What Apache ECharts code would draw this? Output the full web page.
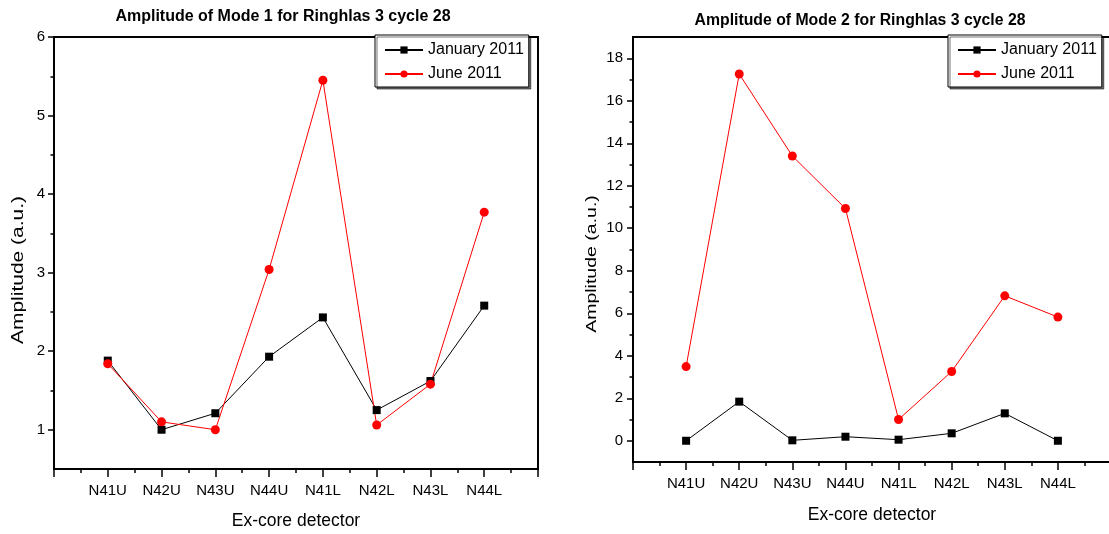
<!DOCTYPE html>
<html><head><meta charset="utf-8">
<script src="https://cdn.jsdelivr.net/npm/echarts@6/dist/echarts.min.js"></script>
<style>html,body{margin:0;padding:0;background:#fff}#c{width:1109px;height:534px}</style>
</head><body><div id="c"></div>
<script>
// ---- data ----
const detectors = ['N41U', 'N42U', 'N43U', 'N44U', 'N41L', 'N42L', 'N43L', 'N44L'];
const seriesNames = ['January 2011', 'June 2011'];
const mode1Jan = [1.88, 1.00, 1.21, 1.93, 2.43, 1.25, 1.62, 2.58];
const mode1Jun = [1.84, 1.10, 1.00, 3.04, 5.45, 1.06, 1.58, 3.77];
const mode2Jan = [0.00, 1.84, 0.02, 0.19, 0.05, 0.35, 1.29, 0.00];
const mode2Jun = [3.49, 17.26, 13.40, 10.93, 1.00, 3.26, 6.82, 5.82];
const mode1Ticks = [1, 2, 3, 4, 5, 6];
const mode1MinorTicks = [1.5, 2.5, 3.5, 4.5, 5.5];
const mode2Ticks = [0, 2, 4, 6, 8, 10, 12, 14, 16, 18];
const mode2MinorTicks = [1, 3, 5, 7, 9, 11, 13, 15, 17];
const titles = ['Amplitude of Mode 1 for Ringhlas 3 cycle 28', 'Amplitude of Mode 2 for Ringhlas 3 cycle 28'];
const xName = 'Ex-core detector';
const yName = 'Amplitude (a.u.)';

// ---- styling ----
const FONT = "'Liberation Sans',Arial,sans-serif";
const toPts = arr => arr.map((v, i) => [i + 1, v]);

function xAxisFor(gi, margin, nameGap) {
  return {
    gridIndex: gi, type: 'value', min: 0, max: detectors.length + 1, interval: 1,
    axisLine: { show: true, onZero: false, lineStyle: { color: '#000', width: 2 } },
    axisTick: { show: true, length: 8, lineStyle: { color: '#000', width: 1.5 } },
    minorTick: { show: true, splitNumber: 2, length: 4, lineStyle: { color: '#000', width: 1.5 } },
    axisLabel: { formatter: v => detectors[v - 1] || '', margin: margin, color: '#000', fontFamily: FONT, fontSize: 15 },
    splitLine: { show: false }, minorSplitLine: { show: false },
    name: xName, nameLocation: 'middle', nameGap: nameGap,
    nameTextStyle: { color: '#000', fontFamily: FONT, fontSize: 17.5 }
  };
}
function yAxisFor(gi, min, max, ticks, margin) {
  return {
    gridIndex: gi, type: 'value', position: 'left', min: min, max: max,
    axisLine: { show: true, onZero: false, lineStyle: { color: '#000', width: 2 } },
    axisTick: { show: true, customValues: ticks, length: 6, lineStyle: { color: '#000', width: 1.5 } },
    axisLabel: { customValues: ticks, margin: margin, color: '#000', fontFamily: FONT, fontSize: 15 },
    splitLine: { show: false }
  };
}
function yMinorFor(gi, min, max, ticks) {
  return {
    gridIndex: gi, type: 'value', position: 'left', min: min, max: max,
    axisLine: { show: false, onZero: false },
    axisTick: { show: true, customValues: ticks, length: 3.5, lineStyle: { color: '#000', width: 1.5 } },
    axisLabel: { show: false }, splitLine: { show: false }
  };
}
function lineSeries(name, xi, yi, data, color, symbol, size) {
  return {
    name: name, type: 'line', xAxisIndex: xi, yAxisIndex: yi, data: toPts(data),
    symbol: symbol, symbolSize: size, showAllSymbol: true,
    lineStyle: { color: color, width: 1 }, itemStyle: { color: color },
    emphasis: { disabled: true }
  };
}
function legendFor(left) {
  return {
    orient: 'vertical', left: left, top: 35, data: seriesNames,
    backgroundColor: '#fff', borderColor: '#000', borderWidth: 1,
    shadowColor: 'rgba(0,0,0,0.55)', shadowOffsetX: 2, shadowOffsetY: 2, shadowBlur: 0,
    padding: [7, 5, 5, 9], itemWidth: 38, itemHeight: 9, itemGap: 8,
    textStyle: { color: '#000', fontFamily: FONT, fontSize: 16 },
    selectedMode: false
  };
}

const chart = echarts.init(document.getElementById('c'), null, { renderer: 'canvas' });
chart.setOption({
  animation: false,
  backgroundColor: '#fff',
  title: [
    { text: titles[0], left: 278, top: 4, textAlign: 'center', textStyle: { fontFamily: FONT, fontWeight: 'bold', fontSize: 16, color: '#000' } },
    { text: titles[1], left: 855, top: 8, textAlign: 'center', textStyle: { fontFamily: FONT, fontWeight: 'bold', fontSize: 15.8, color: '#000' } }
  ],
  legend: [legendFor(375), legendFor(948)],
  grid: [
    { left: 54, top: 37, width: 484, height: 432, show: true, borderColor: '#000', borderWidth: 2, backgroundColor: 'transparent', containLabel: false, outerBoundsMode: 'none' },
    { left: 633, top: 37, width: 478, height: 425, show: true, borderColor: '#000', borderWidth: 2, backgroundColor: 'transparent', containLabel: false, outerBoundsMode: 'none' }
  ],
  xAxis: [xAxisFor(0, 14, 43), xAxisFor(1, 14, 44)],
  yAxis: [
    yAxisFor(0, 0.5, 6, mode1Ticks, 9),
    yMinorFor(0, 0.5, 6, mode1MinorTicks),
    yAxisFor(1, -1, 19, mode2Ticks, 10),
    yMinorFor(1, -1, 19, mode2MinorTicks)
  ],
  series: [
    lineSeries(seriesNames[0], 0, 0, mode1Jan, '#000', 'rect', 8),
    lineSeries(seriesNames[1], 0, 0, mode1Jun, '#ff0000', 'circle', 9),
    lineSeries(seriesNames[0], 1, 2, mode2Jan, '#000', 'rect', 8),
    lineSeries(seriesNames[1], 1, 2, mode2Jun, '#ff0000', 'circle', 9)
  ],
  graphic: [
    { type: 'text', x: 19, y: 270, rotation: Math.PI / 2, scaleY: 0.75,
      style: { text: yName, fontFamily: FONT, fontSize: 21, fill: '#000', align: 'center', verticalAlign: 'middle' } },
    { type: 'text', x: 592, y: 264, rotation: Math.PI / 2, scaleY: 0.78,
      style: { text: yName, fontFamily: FONT, fontSize: 19.5, fill: '#000', align: 'center', verticalAlign: 'middle' } }
  ]
});
</script></body></html>
